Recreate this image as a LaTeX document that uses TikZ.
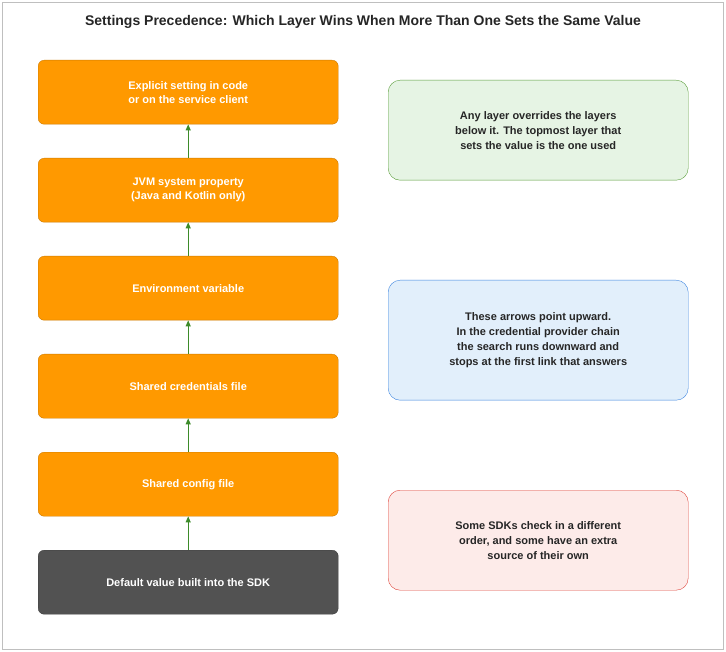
\documentclass[tikz,border=0pt]{standalone}
\usepackage{fontspec}
\setmainfont{Liberation Sans}
\usetikzlibrary{arrows.meta}
\begin{document}
\begin{tikzpicture}[x=1pt,y=-1pt,
  box/.style={rounded corners=6pt,minimum width=300pt,minimum height=64pt,align=center,font=\bfseries\fontsize{11}{14}\selectfont,text=white,anchor=north west},
  note/.style={draw=#1,rounded corners=12pt,minimum width=300pt,align=center,font=\bfseries\fontsize{11}{15}\selectfont,text=black!85,anchor=north west},
  arr/.style={draw=arrg,line width=1pt,-{Triangle[length=6pt,width=5pt]}}]
\definecolor{org}{HTML}{FF9900}
\definecolor{arrg}{HTML}{3D8B2A}
\definecolor{gfill}{HTML}{E6F4E4}
\definecolor{gline}{HTML}{5A9E3A}
\definecolor{bfill}{HTML}{E2EFFB}
\definecolor{bline}{HTML}{3D85E0}
\definecolor{rfill}{HTML}{FDEBE9}
\definecolor{rline}{HTML}{E0443A}
\tikzset{lay/.style={box,fill=org,draw=org!80!black}}
\path[use as bounding box] (0,0) rectangle (726,652);
\draw[black!25,fill=white] (2,2) rectangle (723,649);
\node[font=\bfseries\fontsize{14}{16}\selectfont,text=black!85] (t) at (363,22) {Settings Precedence: Which Layer Wins When More Than One Sets the Same Value};
\node[lay] (b1) at (38,60) {Explicit setting in code\\or on the service client};
\node[lay] (b2) at (38,158) {JVM system property\\(Java and Kotlin only)};
\node[lay] (b3) at (38,256) {Environment variable};
\node[lay] (b4) at (38,354) {Shared credentials file};
\node[lay] (b5) at (38,452) {Shared config file};
\node[box,fill=black!68,draw=black!75] (b6) at (38,550) {Default value built into the SDK};
\foreach \a/\b in {b6/b5,b5/b4,b4/b3,b3/b2,b2/b1} \draw[arr] (\a.north) -- (\b.south);
\node[note=gline,fill=gfill,minimum height=100pt] (n1) at (388,80) {Any layer overrides the layers\\below it. The topmost layer that\\sets the value is the one used};
\node[note=bline,fill=bfill,minimum height=120pt] (n2) at (388,280) {These arrows point upward.\\In the credential provider chain\\the search runs downward and\\stops at the first link that answers};
\node[note=rline,fill=rfill,minimum height=100pt] (n3) at (388,490) {Some SDKs check in a different\\order, and some have an extra\\source of their own};
\end{tikzpicture}
\end{document}
